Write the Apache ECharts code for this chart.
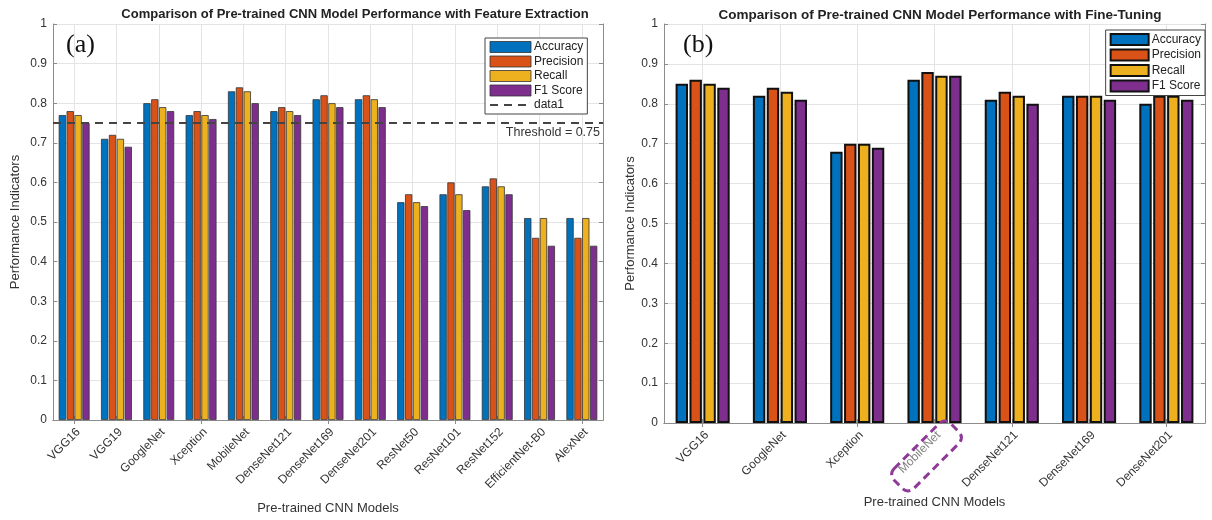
<!DOCTYPE html>
<html>
<head>
<meta charset="utf-8">
<script src="https://cdn.jsdelivr.net/npm/echarts@6/dist/echarts.min.js"></script>
<style>
  html, body { margin: 0; padding: 0; background: #fff; }
  #main { width: 1212px; height: 520px; }
</style>
</head>
<body>
<div id="main"></div>
<script>
// data
var leftModels = ['VGG16', 'VGG19', 'GoogleNet', 'Xception', 'MobileNet', 'DenseNet121', 'DenseNet169',
    'DenseNet201', 'ResNet50', 'ResNet101', 'ResNet152', 'EfficientNet-B0', 'AlexNet'];
var leftAccuracy  = [0.77, 0.71, 0.80, 0.77, 0.83, 0.78, 0.81, 0.81, 0.55, 0.57, 0.59, 0.51, 0.51];
var leftPrecision = [0.78, 0.72, 0.81, 0.78, 0.84, 0.79, 0.82, 0.82, 0.57, 0.60, 0.61, 0.46, 0.46];
var leftRecall    = [0.77, 0.71, 0.79, 0.77, 0.83, 0.78, 0.80, 0.81, 0.55, 0.57, 0.59, 0.51, 0.51];
var leftF1        = [0.75, 0.69, 0.78, 0.76, 0.80, 0.77, 0.79, 0.79, 0.54, 0.53, 0.57, 0.44, 0.44];
var threshold = 0.75;

var rightModels = ['VGG16', 'GoogleNet', 'Xception', 'MobileNet', 'DenseNet121', 'DenseNet169', 'DenseNet201'];
var rightAccuracy  = [0.85, 0.82, 0.68, 0.86, 0.81, 0.82, 0.80];
var rightPrecision = [0.86, 0.84, 0.70, 0.88, 0.83, 0.82, 0.82];
var rightRecall    = [0.85, 0.83, 0.70, 0.87, 0.82, 0.82, 0.82];
var rightF1        = [0.84, 0.81, 0.69, 0.87, 0.80, 0.81, 0.81];
var highlighted = 'MobileNet';

var metricNames = ['Accuracy', 'Precision', 'Recall', 'F1 Score'];
var colors = ['#0072BD', '#D95319', '#EDB120', '#7E2F8E'];
var font = 'Liberation Sans, Arial, sans-serif';

var myChart = echarts.init(document.getElementById('main'));

function boxAxisX(grid, data) {
    return {
        type: 'category', gridIndex: grid, data: data, position: 'top',
        axisLine: { show: true, lineStyle: { color: '#8c8c8c' } },
        axisTick: { show: true, inside: true, alignWithLabel: true, length: 4, lineStyle: { color: '#8c8c8c' } },
        axisLabel: { show: false },
        splitLine: { show: false }
    };
}
function boxAxisY(grid) {
    return {
        type: 'value', gridIndex: grid, position: 'right', min: 0, max: 1, interval: 0.1,
        axisLine: { show: true, lineStyle: { color: '#8c8c8c' } },
        axisTick: { show: true, inside: true, length: 4, lineStyle: { color: '#8c8c8c' } },
        axisLabel: { show: false },
        splitLine: { show: false }
    };
}
function mainAxisX(grid, data, nameGap, labelFn) {
    return {
        type: 'category', gridIndex: grid, data: data, position: 'bottom',
        name: 'Pre-trained CNN Models', nameLocation: 'middle', nameGap: nameGap,
        nameTextStyle: { fontFamily: font, fontSize: 13, color: '#333' },
        axisLine: { show: true, lineStyle: { color: '#8c8c8c' } },
        axisTick: { show: true, inside: true, alignWithLabel: true, length: 4, lineStyle: { color: '#8c8c8c' } },
        axisLabel: {
            rotate: 45, interval: 0, fontFamily: font, fontSize: 12, color: '#333', margin: 6,
            verticalAlign: 'top',
            formatter: labelFn,
            rich: { hl: { fontFamily: font, fontSize: 12, color: '#808080' } }
        },
        splitLine: { show: true, alignWithLabel: true, lineStyle: { color: '#e4e4e4' } }
    };
}
function mainAxisY(grid, nameGap) {
    return {
        type: 'value', gridIndex: grid, min: 0, max: 1, interval: 0.1,
        name: 'Performance Indicators', nameLocation: 'middle', nameGap: nameGap,
        nameTextStyle: { fontFamily: font, fontSize: 13, color: '#333' },
        axisLine: { show: true, lineStyle: { color: '#8c8c8c' } },
        axisTick: { show: true, inside: true, length: 4, lineStyle: { color: '#8c8c8c' } },
        axisLabel: { fontFamily: font, fontSize: 12, color: '#333', margin: 6,
            formatter: function (v) { return String(Math.round(v * 10) / 10); } },
        splitLine: { show: true, lineStyle: { color: '#e4e4e4' } }
    };
}

var leftValues = [leftAccuracy, leftPrecision, leftRecall, leftF1];
var rightValues = [rightAccuracy, rightPrecision, rightRecall, rightF1];
var series = [];
metricNames.forEach(function (n, i) {
    series.push({
        name: n, type: 'bar', xAxisIndex: 0, yAxisIndex: 0, data: leftValues[i],
        barGap: '8%', barCategoryGap: '27%',
        itemStyle: { color: colors[i], borderColor: '#333', borderWidth: 0.8 }
    });
});
series.push({
    name: 'data1', type: 'line', xAxisIndex: 0, yAxisIndex: 0, data: [], symbol: 'none',
    lineStyle: { color: '#444', width: 2, type: [8, 6] },
    markLine: {
        silent: true, symbol: 'none',
        lineStyle: { color: '#444', width: 2, type: [8, 6] },
        label: { position: 'insideEndBottom', formatter: 'Threshold = ' + threshold,
            fontFamily: font, fontSize: 12.5, color: '#333', distance: 3 },
        data: [{ yAxis: threshold }]
    }
});
metricNames.forEach(function (n, i) {
    series.push({
        name: n, type: 'bar', xAxisIndex: 2, yAxisIndex: 2, data: rightValues[i],
        barGap: '12%', barCategoryGap: '30%',
        itemStyle: { color: colors[i], borderColor: '#111', borderWidth: 2 }
    });
});

var legendText = { fontFamily: font, fontSize: 12, color: '#222', lineHeight: 12, padding: [0, 0, 0, -2] };

option = {
    animation: false,
    backgroundColor: '#fff',
    title: [
        { text: 'Comparison of Pre-trained CNN Model Performance with Feature Extraction', left: 350, top: 3,
          textAlign: 'center', textStyle: { fontFamily: font, fontSize: 13, fontWeight: 'bold', color: '#222' } },
        { text: 'Comparison of Pre-trained CNN Model Performance with Fine-Tuning', left: 935, top: 3,
          textAlign: 'center', textStyle: { fontFamily: font, fontSize: 13.5, fontWeight: 'bold', color: '#222' } }
    ],
    legend: [
        {
            left: 485, top: 38, orient: 'vertical', itemWidth: 41, itemHeight: 11, itemGap: 2.5,
            padding: [3, 4, 3, 4], borderColor: '#444', borderWidth: 1, backgroundColor: '#fff',
            textStyle: legendText,
            data: metricNames.map(function (n) {
                return { name: n, icon: 'rect', itemStyle: { borderColor: '#333', borderWidth: 0.8 } };
            }).concat([{ name: 'data1', itemStyle: { opacity: 0 } }])
        },
        {
            right: 7, top: 30, orient: 'vertical', itemWidth: 38, itemHeight: 11, itemGap: 2.5,
            padding: [3, 4, 3, 4], borderColor: '#444', borderWidth: 1, backgroundColor: '#fff',
            textStyle: legendText,
            data: metricNames.map(function (n) {
                return { name: n, icon: 'rect', itemStyle: { borderColor: '#111', borderWidth: 2 } };
            })
        }
    ],
    grid: [
        { left: 53, right: 1212 - 603, top: 24, bottom: 97 },
        { left: 664, right: 7, top: 24, bottom: 97 }
    ],
    xAxis: [
        mainAxisX(0, leftModels, 82, null),
        boxAxisX(0, leftModels),
        mainAxisX(1, rightModels, 70, function (v) { return v === highlighted ? '{hl|' + v + '}' : v; }),
        boxAxisX(1, rightModels)
    ],
    yAxis: [mainAxisY(0, 31), boxAxisY(0), mainAxisY(1, 26), boxAxisY(1)],
    series: series
};
myChart.setOption(option);

// panel tags and the dashed box round the highlighted label
var pos = myChart.convertToPixel({ xAxisIndex: 2, yAxisIndex: 2 }, [highlighted, 0]);
myChart.setOption({
    graphic: [
        { type: 'text', left: 66, top: 32, style: { text: '(a)', font: '26px "Liberation Serif", "Times New Roman", serif', fill: '#111' } },
        { type: 'text', left: 683, top: 32, style: { text: '(b)', font: '26px "Liberation Serif", "Times New Roman", serif', fill: '#111' } },
        {
            type: 'rect', x: pos[0] - 8, y: pos[1] + 33, rotation: Math.PI / 4, z: 10,
            shape: { x: -40, y: -14, width: 80, height: 28, r: 8 },
            style: { fill: 'none', stroke: '#8e3a97', lineWidth: 3, lineDash: [8, 5] }
        }
    ]
});
</script>
</body>
</html>
